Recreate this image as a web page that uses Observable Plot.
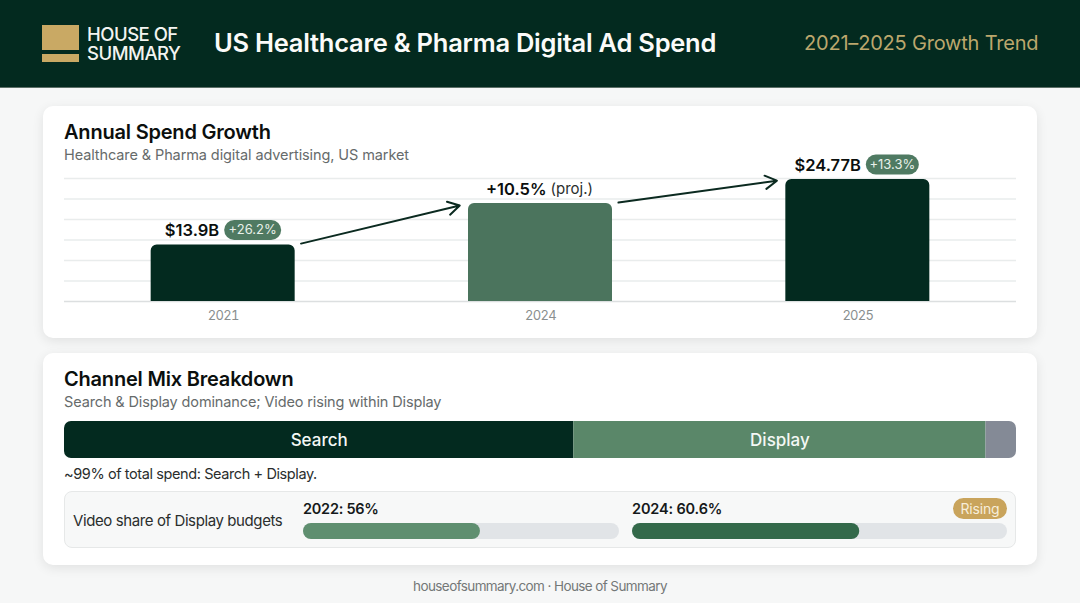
<!DOCTYPE html>
<html>
<head>
<meta charset="utf-8">
<script src="https://cdn.jsdelivr.net/npm/d3@7"></script>
<script src="https://cdn.jsdelivr.net/npm/@observablehq/plot@0.6"></script>
<style>
html,body{margin:0;padding:0;background:#f6f7f7;width:1080px;height:603px;overflow:hidden;font-family:Inter,"Noto Sans",sans-serif;}
.abs{position:absolute;white-space:nowrap;line-height:1;}
.card{position:absolute;left:43px;width:994px;background:#fff;border-radius:10px;box-shadow:0 3px 12px rgba(0,0,0,.09);}
svg{display:block;overflow:visible;background:transparent;}
.plot{position:absolute;}
#growth [aria-label="x-axis tick label"] text{letter-spacing:-.7px;}
</style>
</head>
<body>
<div class="abs" style="left:0;top:0;width:1080px;height:88px;background:#032a1f;border-bottom:1px solid #5d7068;box-sizing:border-box"></div>
<div class="abs" style="left:42px;top:25px;width:37px;height:25px;background:#c9a964"></div>
<div class="abs" style="left:42px;top:54px;width:37px;height:8px;background:#c9a964"></div>
<div class="abs" style="left:87px;top:25px;font-size:18.5px;line-height:19px;font-weight:500;color:#f3f4f1;letter-spacing:-.5px">HOUSE OF<br>SUMMARY</div>
<div class="abs" style="left:214px;top:30px;font-size:25.5px;font-weight:600;color:#fbfbf9;letter-spacing:-.25px">US Healthcare &amp; Pharma Digital Ad Spend</div>
<div class="abs" style="left:804px;top:33px;font-size:20px;font-weight:400;color:#bca76d;letter-spacing:-.2px">2021–2025 Growth Trend</div>

<div class="card" style="top:106px;height:232px"></div>
<div class="abs" style="left:64px;top:122px;font-size:20px;font-weight:600;color:#0b0f0e;letter-spacing:-.2px">Annual Spend Growth</div>
<div class="abs" style="left:64px;top:148px;font-size:14.5px;color:#666b6b;letter-spacing:-.1px">Healthcare &amp; Pharma digital advertising, US market</div>
<div id="growth" class="plot" style="left:64px;top:150px"></div>

<div class="card" style="top:353px;height:212px"></div>
<div class="abs" style="left:64px;top:369px;font-size:20px;font-weight:600;color:#0b0f0e;letter-spacing:-.2px">Channel Mix Breakdown</div>
<div class="abs" style="left:64px;top:395px;font-size:14.5px;color:#666b6b;letter-spacing:-.13px">Search &amp; Display dominance; Video rising within Display</div>
<div id="mix" class="plot" style="left:64px;top:421px;width:952px;height:37px;border-radius:7px;overflow:hidden"></div>
<div class="abs" style="left:64px;top:467px;font-size:14.5px;color:#2a2e2d;letter-spacing:-.4px">~99% of total spend: Search + Display.</div>

<div class="abs" style="left:64px;top:491px;width:952px;height:57px;background:#f7f8f8;border:1px solid #e6e8e8;border-radius:8px;box-sizing:border-box"></div>
<div class="abs" style="left:73px;top:513px;font-size:15px;color:#2a2e2d;letter-spacing:-.4px">Video share of Display budgets</div>
<div id="vlabel0" class="abs" style="left:303px;top:502px;font-size:14.5px;font-weight:600;color:#15191a;letter-spacing:-.25px"></div>
<div id="vlabel1" class="abs" style="left:632px;top:502px;font-size:14.5px;font-weight:600;color:#15191a;letter-spacing:-.15px"></div>
<div id="video0" class="plot" style="left:303px;top:523px"></div>
<div id="video1" class="plot" style="left:632px;top:523px"></div>
<div class="abs" style="left:953px;top:498px;width:54px;height:21px;border-radius:11px;background:#c9a45c;color:#f7eeda;font-size:14px;line-height:21px;text-align:center;letter-spacing:-.15px">Rising</div>
<div class="abs" style="left:0;top:580px;width:1080px;text-align:center;font-size:13.5px;color:#747878;letter-spacing:-.6px">houseofsummary.com · House of Summary</div>

<script>
const FONT = 'Inter, "Noto Sans", sans-serif';
const DARK = "#032a1f";

// Annual spend
const years = ["2021", "2024", "2025"];
const spend = [13.9, 20.8, 24.77];
const barColors = [DARK, "#4b745d", DARK];
const valueLabels = ["$13.9B", "+10.5%", "$24.77B"];
const growthPills = ["+26.2%", null, "+13.3%"];
const gridLevels = [4.53, 7.93, 11.33, 14.73, 18.13, 21.53, 24.93];

// Channel mix
const channels = ["Search", "Display", "Other"];
const channelShare = [53.5, 43.3, 3.2];
const channelColors = [DARK, "#5a8769", "#848a96"];
const channelLabels = ["Search", "Display", ""];

// Video share
const videoYears = ["2022", "2024"];
const videoShare = [56, 60.6];
const videoColors = ["#5f8f70", "#33694a"];

const STEP = 952 / 3;
const HALF = 72 / STEP;
const off = px => px / STEP;
const idx = years.map((_, i) => i);
const arrows = idx.slice(0, -1);

const pillMarks = (i, from, to) => [
  Plot.link([i], {x1: d => d + off(from + 10), x2: d => d + off(to - 10), y1: d => spend[d], y2: d => spend[d],
    dy: -15, stroke: "#4f7a62", strokeWidth: 20, strokeLinecap: "round"}),
  Plot.text([i], {x: d => d + off((from + to) / 2), y: d => spend[d], text: d => growthPills[d],
    dy: -15, fill: "#e8f1ea", fontSize: 13})
];
const valueMark = (i, dx, anchor) => Plot.text([i], {x: d => d, y: d => spend[d], text: d => valueLabels[d],
  dx, dy: -14, textAnchor: anchor, fill: "#0b0f0e", fontSize: 16.5, fontWeight: 600});

const growth = Plot.plot({
  width: 952, height: 180,
  marginLeft: 0, marginRight: 0, marginTop: 28, marginBottom: 29,
  style: {fontFamily: FONT, background: "transparent"},
  x: {type: "linear", domain: [-0.5, 2.5], axis: null},
  y: {domain: [gridLevels[0], gridLevels[6]], axis: null},
  marks: [
    Plot.ruleY(gridLevels.slice(1), {stroke: "#e9ecec", strokeWidth: 1.5}),
    Plot.ruleY([gridLevels[0]], {stroke: "#dcdfe0", strokeWidth: 1.5}),
    Plot.rect(idx, {x1: d => d - HALF, x2: d => d + HALF, y1: gridLevels[0], y2: d => spend[d],
      fill: d => barColors[d], rx1y2: 6, rx2y2: 6, inset: 0}),
    Plot.arrow(arrows, {x1: d => d + HALF, y1: d => spend[d], x2: d => d + 1 - HALF, y2: d => spend[d + 1],
      stroke: "#0b2a20", strokeWidth: 2, bend: 0, insetStart: 6, insetEnd: 9, headLength: 10}),
    valueMark(0, -4, "end"), ...pillMarks(0, 1, 58),
    valueMark(1, 6, "end"),
    Plot.text([1], {x: d => d, y: d => spend[d], text: () => "(proj.)", dx: 10, dy: -14, textAnchor: "start", fill: "#2a2e2d", fontSize: 15}),
    valueMark(2, 3, "end"), ...pillMarks(2, 8, 61),
    Plot.axisX({ticks: idx, tickFormat: d => years[d], tickSize: 0, tickPadding: 9, fontSize: 13, color: "#8a8f8f", label: null})
  ]
});
document.getElementById("growth").append(growth);

const mixRows = channels.map((c, i) => ({c, v: channelShare[i], t: channelLabels[i]}));
const mix = Plot.plot({
  width: 952, height: 37, margin: 0,
  style: {fontFamily: FONT, background: "transparent"},
  x: {domain: [0, 100], axis: null},
  y: {axis: null},
  color: {domain: channels, range: channelColors},
  marks: [
    Plot.barX(mixRows, {x: "v", fill: "c", order: null, inset: 0}),
    Plot.text(mixRows, Plot.stackX({x: "v", text: "t", order: null, fill: "#f4f8f5", fontSize: 17, fontWeight: 500, dy: 1}))
  ]
});
document.getElementById("mix").append(mix);

const videoPlot = (i, w) => Plot.plot({
  width: w, height: 16, margin: 0,
  style: {fontFamily: FONT, background: "transparent"},
  x: {domain: [0, 100], axis: null},
  marks: [
    Plot.barX([100], {x: d => d, fill: "#e1e4e7", rx: 8, ry: 8, inset: 0}),
    Plot.barX([videoShare[i]], {x: d => d, fill: videoColors[i], rx: 8, ry: 8, inset: 0})
  ]
});
document.getElementById("video0").append(videoPlot(0, 316));
document.getElementById("video1").append(videoPlot(1, 375));
videoYears.forEach((y, i) => {
  document.getElementById("vlabel" + i).textContent = `${y}: ${videoShare[i]}%`;
});
</script>
</body>
</html>
